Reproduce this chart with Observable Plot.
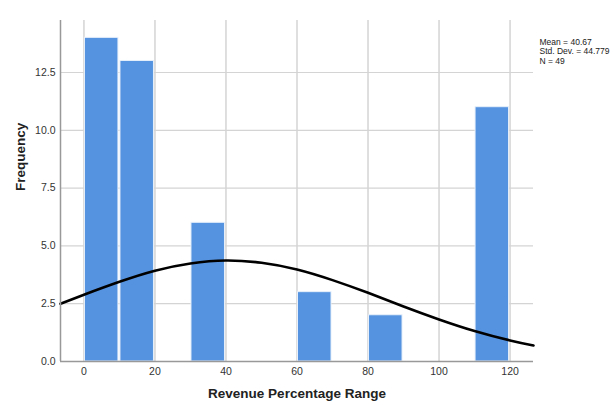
<!DOCTYPE html>
<html>
<head>
<meta charset="utf-8">
<script src="https://cdn.jsdelivr.net/npm/d3@7"></script>
<script src="https://cdn.jsdelivr.net/npm/@observablehq/plot@0.6"></script>
<style>
  html, body { margin: 0; padding: 0; background: #fff; }
  svg { font-family: "Liberation Sans", Arial, sans-serif; }
</style>
</head>
<body>
<div id="chart"></div>
<script>
// Histogram bins and frequencies
const binStart = [0, 10, 30, 60, 80, 110];
const binEnd   = [10, 20, 40, 70, 90, 120];
const freq     = [14, 13, 6, 3, 2, 11];

// Fitted normal curve
const curveX = [-6.6, 0, 10, 20, 30, 40, 50, 60, 70, 80, 90, 100, 110, 120, 126.6];
const curveY = [2.50, 2.89, 3.45, 3.93, 4.24, 4.37, 4.27, 3.98, 3.52, 2.97, 2.38, 1.82, 1.32, 0.91, 0.69];

// Axis ticks and labels
const xTicks = [0, 20, 40, 60, 80, 100, 120];
const yTicks = [0, 2.5, 5, 7.5, 10, 12.5];
const xTitle = "Revenue Percentage Range";
const yTitle = "Frequency";
const stats = ["Mean = 40.67", "Std. Dev. = 44.779", "N = 49"];

const bars = binStart.map((s, i) => ({x1: s, x2: binEnd[i], y: freq[i]}));
const curve = curveX.map((x, i) => ({x, y: curveY[i]}));

const chart = Plot.plot({
  width: 614,
  height: 405,
  marginLeft: 60,
  marginRight: 81,
  marginTop: 20,
  marginBottom: 44,
  style: {fontFamily: "'Liberation Sans', Arial, sans-serif", fontSize: "10.5px", color: "#333", background: "#fff"},
  x: {domain: [-6.6, 126.6]},
  y: {domain: [0, 14.75]},
  marks: [
    Plot.ruleX(xTicks, {stroke: "#d4d4d4", strokeWidth: 1.5}),
    Plot.ruleY(yTicks.filter(d => d > 0), {stroke: "#d4d4d4", strokeWidth: 1.2}),
    Plot.rectY(bars, {x1: "x1", x2: "x2", y: "y", fill: "#5593e0", stroke: "#e8f0fb", strokeWidth: 1, insetLeft: 1, insetRight: 1}),
    Plot.line(curve, {x: "x", y: "y", stroke: "#000", strokeWidth: 2.6, curve: "natural"}),
    Plot.ruleY([0], {stroke: "#999", strokeWidth: 1.5}),
    Plot.ruleX([-6.6], {stroke: "#999", strokeWidth: 1.5}),
    Plot.axisX({ticks: xTicks, tickSize: 0, tickPadding: 6, label: null, tickFormat: d => String(d), fill: "#333"}),
    Plot.axisY({ticks: yTicks, tickSize: 0, tickPadding: 5, label: null, tickFormat: d => d.toFixed(1), fill: "#333"}),
    Plot.text([xTitle], {frameAnchor: "bottom", dy: 36, fontWeight: "bold", fontSize: 13.5, fill: "#222"}),
    Plot.text([yTitle], {frameAnchor: "left", dx: -40, rotate: -90, fontWeight: "bold", fontSize: 13.5, fill: "#222"}),
    Plot.text([stats.join("\n")], {frameAnchor: "top-right", dx: 6, dy: 18, textAnchor: "start", lineAnchor: "top", lineHeight: 1.1, fontSize: 8.5, fill: "#222"})
  ]
});
document.getElementById("chart").appendChild(chart);
</script>
</body>
</html>
